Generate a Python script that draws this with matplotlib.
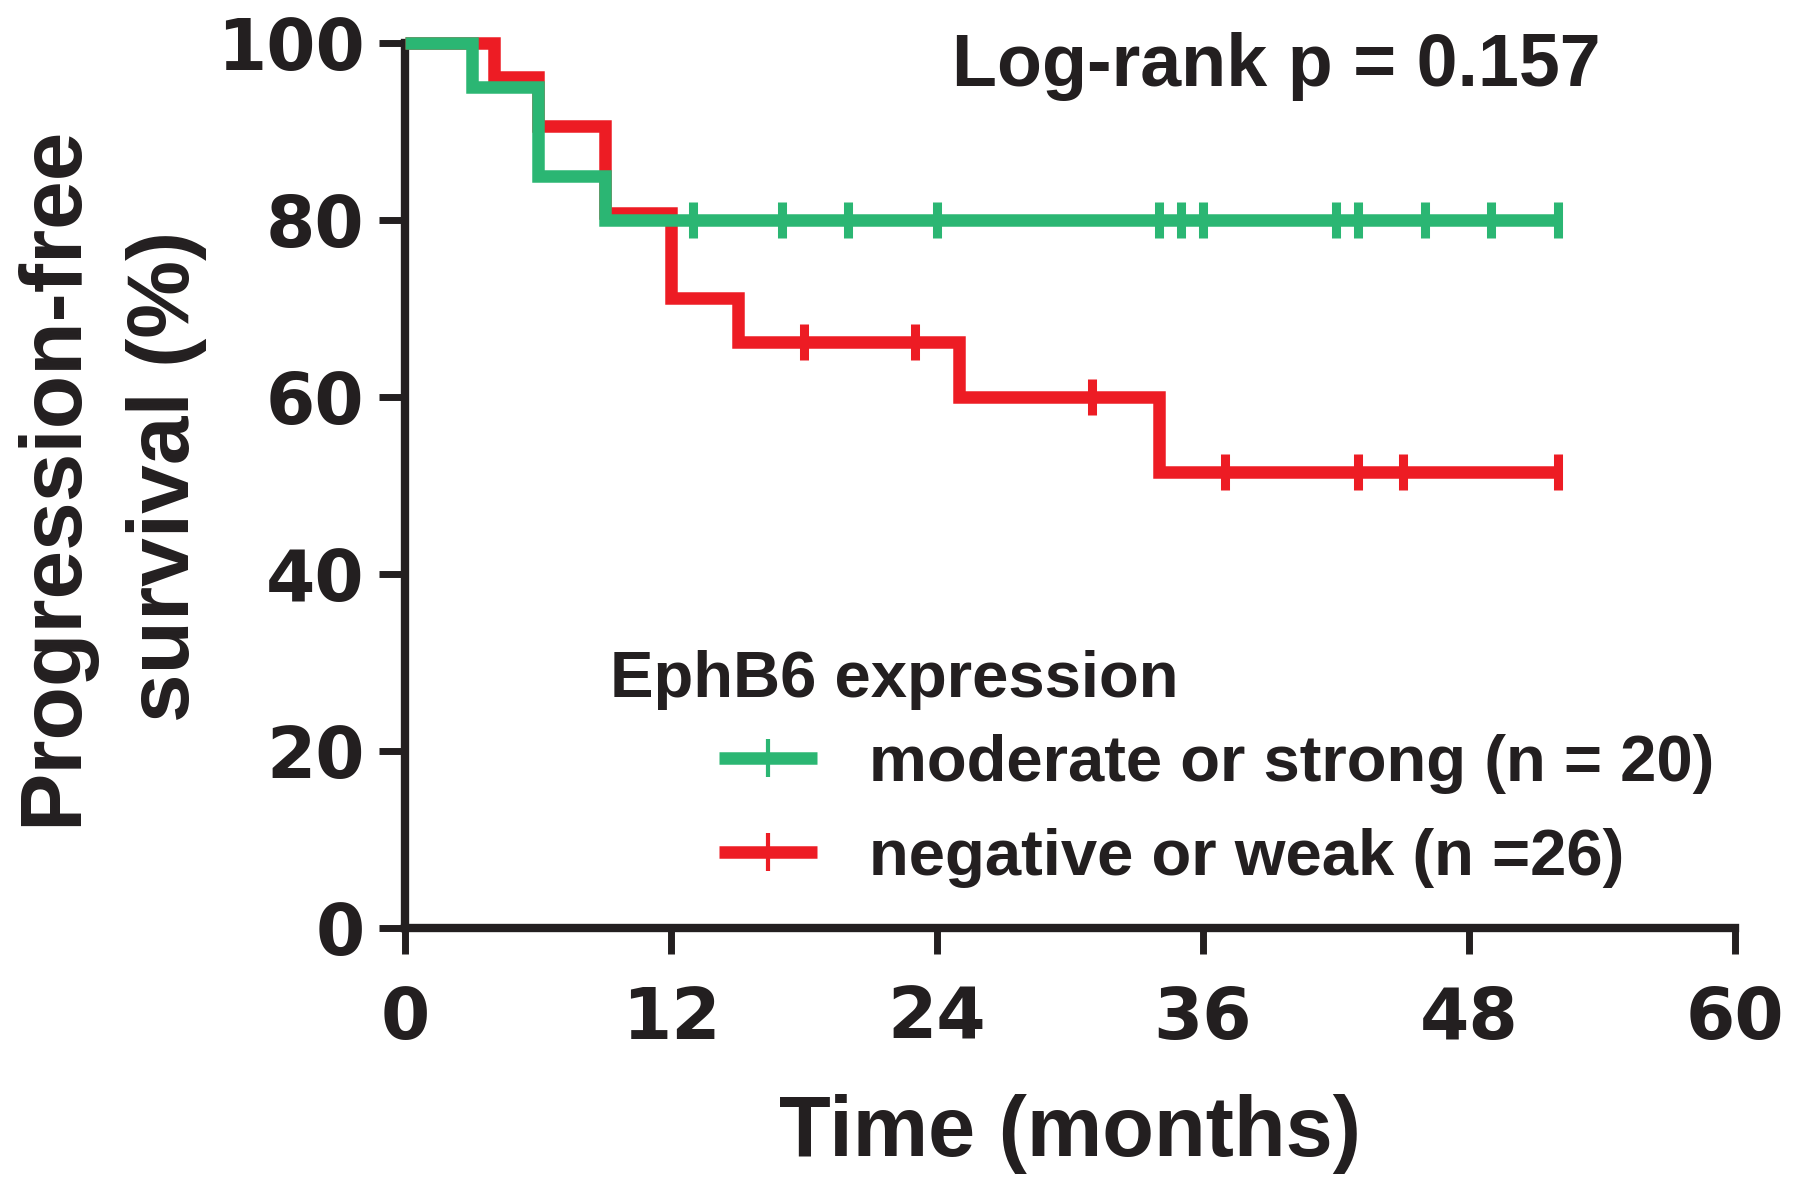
import numpy as np
import matplotlib
matplotlib.use("Agg")
import matplotlib.pyplot as plt
from matplotlib.lines import Line2D

# ---- data ----
green_times = [0, 3, 6, 9, 52]
green_surv = [100, 95, 85, 80, 80]
green_censor = [13, 17, 20, 24, 34, 35, 36, 42, 43, 46, 49, 52]

red_times = [0, 4, 6, 9, 12, 15, 25, 34, 52]
red_surv = [100, 96.2, 90.6, 80.8, 71.2, 66.2, 60.0, 51.5, 51.5]
red_censor = [18, 23, 31, 37, 43, 45, 52]

x_ticks = [0, 12, 24, 36, 48, 60]
y_ticks = [0, 20, 40, 60, 80, 100]

green_label = "moderate or strong (n = 20)"
red_label = "negative or weak (n =26)"
legend_title = "EphB6 expression"
pvalue_text = "Log-rank p = 0.157"

GREEN = "#2BB673"
RED = "#ED1C24"
INK = "#231F20"
TXT = ["Liberation Sans", "DejaVu Sans"]
NUM = ["DejaVu Sans"]

W, H = 1795, 1181
fig = plt.figure(figsize=(W / 100, H / 100), dpi=100)
fig.patch.set_facecolor("white")

def fx(px):
    return px / W

def fy(py):
    return 1 - py / H

ax = fig.add_axes([fx(405), fy(928), fx(1735) - fx(405), fy(43) - fy(928)])

def step_value(times, surv, t):
    i = np.searchsorted(times, t, side="right") - 1
    return surv[i]

LW = 9
for times, surv, cens, col, z in [(red_times, red_surv, red_censor, RED, 3),
                                  (green_times, green_surv, green_censor, GREEN, 4)]:
    ax.step(times, surv, where="post", color=col, lw=LW, zorder=z,
            solid_joinstyle="miter", solid_capstyle="butt", clip_on=False)
    cy = [step_value(times, surv, t) for t in cens]
    ax.plot(cens, cy, linestyle="none", marker="|", markersize=26,
            markeredgewidth=6.5, color=col, zorder=z, clip_on=False)

ax.set_xlim(0, 60)
ax.set_ylim(0, 100)
ax.set_xticks(x_ticks)
ax.set_yticks(y_ticks)
ax.set_xticklabels([str(v) for v in x_ticks])
ax.set_yticklabels([str(v) for v in y_ticks])

for s in ["top", "right"]:
    ax.spines[s].set_visible(False)
for s in ["left", "bottom"]:
    ax.spines[s].set_linewidth(6)
    ax.spines[s].set_color(INK)
    ax.spines[s].set_capstyle("projecting")

ax.tick_params(axis="both", which="major", length=19, width=5, color=INK,
               labelcolor=INK, labelsize=51)
ax.tick_params(axis="y", pad=10)
ax.tick_params(axis="x", pad=22)
for lab in ax.get_xticklabels() + ax.get_yticklabels():
    lab.set_fontfamily(NUM)
    lab.set_fontweight("bold")

# axis labels
fig.text(fx(1070), fy(1156), "Time (months)", ha="center", va="baseline",
         fontsize=61, fontweight="bold", family=TXT, color=INK)
fig.text(fx(76), fy(476), "Progression-free", rotation=90, rotation_mode="anchor",
         ha="center", va="baseline", fontsize=63, fontweight="bold", family=TXT, color=INK)
fig.text(fx(189), fy(476), "survival (%)", rotation=90, rotation_mode="anchor",
         ha="center", va="baseline", fontsize=63, fontweight="bold", family=TXT, color=INK)

# p-value
fig.text(fx(952), fy(86), pvalue_text, ha="left", va="baseline",
         fontsize=53, fontweight="bold", family=TXT, color=INK)

# legend
fig.text(fx(610), fy(697), legend_title, ha="left", va="baseline",
         fontsize=47, fontweight="bold", family=TXT, color=INK)
handles = [
    Line2D([], [], color=GREEN, lw=LW, marker="|", markersize=28, markeredgewidth=3,
           solid_capstyle="butt"),
    Line2D([], [], color=RED, lw=LW, marker="|", markersize=28, markeredgewidth=3,
           solid_capstyle="butt"),
]
leg = fig.legend(handles, [green_label, red_label], loc="upper left",
                 bbox_to_anchor=(fx(719), fy(734)), frameon=False, borderpad=0,
                 borderaxespad=0, handlelength=1.5, handletextpad=0.8,
                 labelspacing=0.52, numpoints=1,
                 prop={"family": TXT, "weight": "bold", "size": 47})
for t in leg.get_texts():
    t.set_color(INK)

fig.savefig("out.png", dpi=100, facecolor="white")
